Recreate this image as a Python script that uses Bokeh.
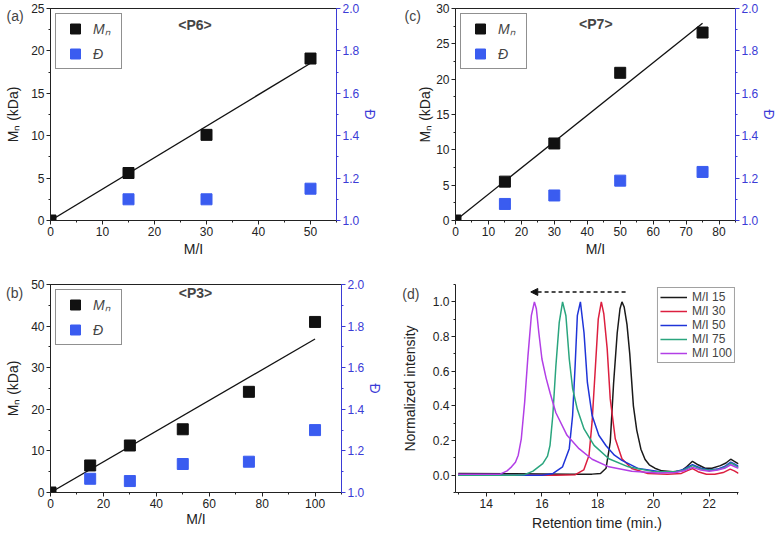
from bokeh.plotting import figure
from bokeh.layouts import column, row
from bokeh.models import (Range1d, LinearAxis, SingleIntervalTicker, PrintfTickFormatter,
                          Legend, LegendItem, Label, Arrow, NormalHead)
from bokeh.embed import file_html
from bokeh.resources import INLINE

FONT = "Liberation Sans"
BLACK = "#111111"
BLUE_PT = "#3a5cf0"
BLUE_AX = "#3b3bd6"

# ---------------- data ----------------
# (a) P6
p6_mi = [0, 15, 30, 50]
p6_mn = [0, 5.6, 10.1, 19.1]
p6_dmi = [15, 30, 50]
p6_disp = [1.10, 1.10, 1.15]
p6_fit_x = [0, 50]
p6_fit_y = [0, 18.55]

# (b) P3
p3_mi = [0, 15, 30, 50, 75, 100]
p3_mn = [0, 6.5, 11.3, 15.2, 24.2, 41.0]
p3_dmi = [15, 30, 50, 75, 100]
p3_disp = [1.066, 1.055, 1.137, 1.148, 1.30]
p3_fit_x = [0, 100]
p3_fit_y = [0, 36.9]

# (c) P7
p7_mi = [0, 15, 30, 50, 75]
p7_mn = [0, 5.5, 10.9, 20.9, 26.6]
p7_dmi = [15, 30, 50, 75]
p7_disp = [1.078, 1.118, 1.188, 1.229]
p7_fit_x = [0, 75]
p7_fit_y = [0, 27.9]

# (d) GPC traces
t15 = [13.0, 15.0, 17.0, 17.8, 18.1, 18.3, 18.45, 18.57, 18.7, 18.8, 18.87, 18.95, 19.05, 19.15,
       19.28, 19.4, 19.55, 19.7, 19.85, 20.05, 20.3, 20.7, 21.0, 21.2, 21.4, 21.6, 21.85, 22.1,
       22.4, 22.6, 22.77, 22.9, 23.05]
i15 = [0.01, 0.008, 0.006, 0.006, 0.01, 0.04, 0.19, 0.53, 0.82, 0.96, 1.0, 0.97, 0.87, 0.7,
       0.4, 0.26, 0.15, 0.09, 0.06, 0.04, 0.025, 0.02, 0.025, 0.05, 0.08, 0.06, 0.04, 0.04,
       0.055, 0.07, 0.092, 0.08, 0.065]
t30 = [13.0, 15.0, 16.5, 17.2, 17.5, 17.69, 17.8, 17.92, 18.02, 18.13, 18.22, 18.34, 18.45,
       18.63, 18.87, 19.22, 19.8, 20.5, 21.0, 21.2, 21.4, 21.6, 21.9, 22.2, 22.5, 22.75, 22.9, 23.05]
i30 = [0.0, 0.0, 0.0, 0.003, 0.03, 0.115, 0.31, 0.63, 0.9, 1.0, 0.93, 0.73, 0.44,
       0.21, 0.095, 0.038, 0.01, 0.005, 0.01, 0.025, 0.038, 0.02, 0.005, 0.005, 0.015, 0.035, 0.025, 0.01]
t50 = [13.0, 15.0, 16.0, 16.4, 16.74, 16.98, 17.1, 17.19, 17.27, 17.38, 17.51, 17.63, 17.8, 18.04,
       18.3, 18.6, 18.87, 19.46, 20.3, 20.8, 21.1, 21.4, 21.7, 22.0, 22.3, 22.55, 22.77, 22.9, 23.05]
i50 = [0.0, 0.0, 0.0, 0.01, 0.048, 0.153, 0.344, 0.63, 0.92, 1.0, 0.82, 0.535, 0.344, 0.23,
       0.17, 0.115, 0.085, 0.038, 0.019, 0.02, 0.035, 0.06, 0.04, 0.03, 0.035, 0.05, 0.075, 0.065, 0.05]
t75 = [13.0, 15.0, 15.38, 15.68, 16.03, 16.2, 16.29, 16.39, 16.5, 16.62, 16.74, 16.86, 16.98, 17.1,
       17.27, 17.51, 17.87, 18.4, 19.1, 20.05, 20.8, 21.1, 21.4, 21.7, 22.0, 22.3, 22.55, 22.77, 22.9, 23.05]
i75 = [0.0, 0.0, 0.003, 0.023, 0.067, 0.11, 0.172, 0.344, 0.63, 0.88, 1.0, 0.92, 0.67, 0.5,
       0.38, 0.267, 0.172, 0.095, 0.048, 0.019, 0.02, 0.03, 0.055, 0.035, 0.028, 0.032, 0.045, 0.07, 0.06, 0.045]
t100 = [13.0, 14.0, 14.5, 14.75, 14.91, 15.05, 15.15, 15.26, 15.38, 15.5, 15.62, 15.73, 15.8, 15.89,
        16.0, 16.15, 16.3, 16.5, 16.9, 17.33, 17.8, 18.4, 19.22, 20.17, 20.8, 21.1, 21.4, 21.7, 22.0,
        22.3, 22.55, 22.77, 22.9, 23.05]
i100 = [0.005, 0.005, 0.006, 0.025, 0.048, 0.075, 0.115, 0.21, 0.42, 0.69, 0.92, 1.0, 0.96, 0.82,
        0.67, 0.56, 0.47, 0.36, 0.23, 0.153, 0.092, 0.048, 0.023, 0.012, 0.015, 0.025, 0.045, 0.03, 0.022,
        0.03, 0.04, 0.06, 0.05, 0.04]
gpc_labels = ["M/I 15", "M/I 30", "M/I 50", "M/I 75", "M/I 100"]
gpc_colors = ["#1a1a1a", "#dc1f3f", "#1f34d8", "#2aa57e", "#b23fe6"]
arrow_from, arrow_to, arrow_y = 19.0, 15.6, 1.057


def style_axis(ax, color="#222222", fs="12px"):
    ax.axis_line_color = color
    ax.major_tick_line_color = color
    ax.minor_tick_line_color = color
    ax.major_label_text_color = color
    ax.major_label_text_font = FONT
    ax.major_label_text_font_size = fs
    ax.axis_label_text_font = FONT
    ax.axis_label_text_font_size = "14px"
    ax.axis_label_text_font_style = "normal"
    ax.axis_label_text_color = color
    ax.major_tick_out = 4
    ax.major_tick_in = 0
    ax.minor_tick_out = 2
    ax.minor_tick_in = 0
    ax.major_label_standoff = 2


def base_fig(width, height, xr, yr, borders):
    p = figure(width=width, height=height, x_range=Range1d(*xr), y_range=Range1d(*yr),
               output_backend="svg", toolbar_location=None,
               min_border_left=borders[0], min_border_right=borders[1],
               min_border_top=borders[2], min_border_bottom=borders[3])
    p.xgrid.visible = False
    p.ygrid.visible = False
    p.outline_line_color = None
    p.background_fill_color = "white"
    p.border_fill_color = "white"
    return p


def letter_label(x, y, text):
    return Label(x=x, y=y, text=text, text_font=FONT, text_font_size="14px",
                 text_align="center", text_baseline="middle")


def mi_panel(mi, mn, dmi, dv, fx, fy, xr, yr, xint, yint, tag, tag_xy, letter, letter_xy,
             letter_side, width, height, borders, ylab_standoff, xlab_standoff):
    p = base_fig(width, height, xr, yr, borders)
    p.outline_line_color = "#222222"
    p.outline_line_width = 1
    p.extra_y_ranges = {"disp": Range1d(1.0, 2.0)}
    p.xaxis.ticker = SingleIntervalTicker(interval=xint, num_minor_ticks=2)
    p.yaxis.ticker = SingleIntervalTicker(interval=yint, num_minor_ticks=2)
    style_axis(p.xaxis[0])
    style_axis(p.yaxis[0])
    p.xaxis.axis_label = "M/I"
    p.xaxis.axis_label_standoff = xlab_standoff
    p.yaxis.axis_label = "Mₙ (kDa)"
    p.yaxis.axis_label_standoff = ylab_standoff

    ra = LinearAxis(y_range_name="disp",
                    ticker=SingleIntervalTicker(interval=0.2, num_minor_ticks=2),
                    formatter=PrintfTickFormatter(format="%.1f"))
    style_axis(ra, BLUE_AX)
    ra.axis_label = "Đ"
    ra.axis_label_standoff = 0
    p.add_layout(ra, "right")

    p.line(fx, fy, line_color=BLACK, line_width=1.3)
    r1 = p.scatter(mi, mn, marker="square", size=11, color=BLACK)
    r2 = p.scatter(dmi, dv, marker="square", size=11, color=BLUE_PT, y_range_name="disp")

    leg = Legend(items=[LegendItem(label="Mₙ", renderers=[r1]),
                        LegendItem(label="Đ", renderers=[r2])],
                 location="top_left", margin=5, padding=2, spacing=-4,
                 glyph_width=34, glyph_height=25, label_height=18, label_width=26,
                 label_standoff=1,
                 label_text_font=FONT, label_text_font_size="14px",
                 label_text_font_style="italic",
                 border_line_color="#222222", border_line_width=1.5,
                 background_fill_color="white", background_fill_alpha=1.0)
    p.add_layout(leg)

    p.add_layout(Label(x=tag_xy[0], y=tag_xy[1], text=tag, text_font=FONT,
                       text_font_size="14px", text_font_style="bold",
                       text_align="center", text_baseline="middle"))
    p.add_layout(letter_label(letter_xy[0], letter_xy[1], letter), letter_side)
    return p


pa = mi_panel(p6_mi, p6_mn, p6_dmi, p6_disp, p6_fit_x, p6_fit_y, (0, 55), (0, 25), 10, 5,
              "<P6>", (27.8, 23.0), "(a)", (-6.8, 24.17), "right",
              398, 262, (50, 57, 8, 42), 7, 2)
pb = mi_panel(p3_mi, p3_mn, p3_dmi, p3_disp, p3_fit_x, p3_fit_y, (0, 110), (0, 50), 20, 10,
              "<P3>", (54.8, 47.85), "(b)", (-13.6, 47.85), "above",
              398, 271, (50, 57, 22, 40), 7, 0)
pc = mi_panel(p7_mi, p7_mn, p7_dmi, p7_disp, p7_fit_x, p7_fit_y, (0, 85), (0, 30), 10, 5,
              "<P7>", (42.6, 27.8), "(c)", (-13.0, 29.0), "left",
              382, 262, (53, 38, 8, 42), 0, 2)

# ---- (d) GPC ----
pd = base_fig(382, 271, (12.9, 23.05), (-0.1, 1.1), (54, 42, 22, 40))
pd.xaxis.ticker = SingleIntervalTicker(interval=2, num_minor_ticks=2)
pd.yaxis.ticker = SingleIntervalTicker(interval=0.2, num_minor_ticks=2)
pd.yaxis.formatter = PrintfTickFormatter(format="%.1f")
style_axis(pd.xaxis[0])
style_axis(pd.yaxis[0])
pd.xaxis.axis_label = "Retention time (min.)"
pd.xaxis.axis_label_standoff = 4
pd.yaxis.axis_label = "Normalized intensity"
pd.yaxis.axis_label_standoff = 12

items = []
for tt, ii, lab, col in zip([t15, t30, t50, t75, t100], [i15, i30, i50, i75, i100],
                            gpc_labels, gpc_colors):
    r = pd.line(tt, ii, line_color=col, line_width=1.5)
    items.append(LegendItem(label=lab, renderers=[r]))

pd.add_layout(Arrow(end=NormalHead(size=7, fill_color=BLACK, line_color=BLACK),
                    x_start=arrow_from, y_start=arrow_y, x_end=arrow_to, y_end=arrow_y,
                    line_color=BLACK, line_width=1.5, line_dash="4 3"))

legd = Legend(items=items, location="top_right", margin=3, padding=2, spacing=0,
              glyph_width=27, glyph_height=14, label_height=14, label_standoff=5,
              label_text_font=FONT, label_text_font_size="12px",
              border_line_color="#444444", border_line_width=1.5,
              background_fill_color="white", background_fill_alpha=1.0)
pd.add_layout(legd)
pd.add_layout(letter_label(11.3, 1.048, "(d)"), "above")

layout = column(row(pa, pc), row(pb, pd))

open("out.html", "w").write(file_html(layout, INLINE))
